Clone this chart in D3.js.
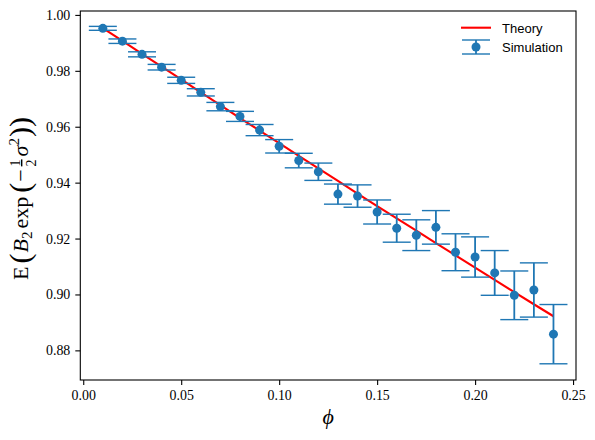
<!DOCTYPE html>
<html>
<head>
<meta charset="utf-8">
<script src="https://cdn.jsdelivr.net/npm/d3@7"></script>
<style>
  body { margin: 0; background: white; }
</style>
</head>
<body>
<div id="chart"></div>
<script>
// data
var phi = [0.01, 0.02, 0.03, 0.04, 0.05, 0.06, 0.07, 0.08, 0.09, 0.10, 0.11, 0.12,
           0.13, 0.14, 0.15, 0.16, 0.17, 0.18, 0.19, 0.20, 0.21, 0.22, 0.23, 0.24];
var simMean = [0.9952, 0.9906, 0.9859, 0.9813, 0.9766, 0.9723, 0.9672, 0.9637, 0.9588, 0.9530, 0.9479, 0.9439,
               0.9359, 0.9352, 0.9295, 0.9237, 0.9212, 0.9240, 0.9151, 0.9134, 0.9077, 0.8997, 0.9016, 0.8858];
var simErr = [0.0007, 0.0008, 0.0009, 0.0010, 0.0011, 0.0013, 0.0015, 0.0018, 0.0020, 0.0024, 0.0026, 0.0031,
              0.0036, 0.0040, 0.0043, 0.0050, 0.0055, 0.0060, 0.0066, 0.0072, 0.0080, 0.0087, 0.0097, 0.0106];
var theory = [0.9953, 0.9907, 0.9861, 0.9815, 0.9769, 0.9723, 0.9677, 0.9631, 0.9586, 0.9541, 0.9496, 0.9451,
              0.9406, 0.9361, 0.9316, 0.9272, 0.9228, 0.9184, 0.9140, 0.9096, 0.9052, 0.9008, 0.8965, 0.8922];
var xTicks = [0.00, 0.05, 0.10, 0.15, 0.20, 0.25];
var yTicks = [0.88, 0.90, 0.92, 0.94, 0.96, 0.98, 1.00];
var legendLabels = ["Theory", "Simulation"];

var blue = "#1f77b4";
var serif = "'Liberation Serif', 'DejaVu Serif', serif";

// set the dimensions and margins of the graph
var W = 595, H = 440;
var margin = {top: 11, right: 19, bottom: 60, left: 80.3},
	width = W - margin.left - margin.right,
	height = H - margin.top - margin.bottom;

var svg = d3.select("#chart")
  .append("svg")
	.attr("width", W)
	.attr("height", H)
  .append("g")
	.attr("transform", "translate(" + margin.left + "," + margin.top + ")");

var x = d3.scaleLinear()
	.domain([-0.0015, 0.2515])
	.range([0, width]);
var y = d3.scaleLinear()
	.domain([0.8694, 1.0014])
	.range([height, 0]);

// Add X axis
var xAxis = svg.append("g")
	.attr("transform", "translate(0," + height + ")")
	.call(d3.axisBottom(x).tickValues(xTicks).tickFormat(d3.format(".2f")).tickSize(5).tickPadding(5));

// Add Y axis
var yAxis = svg.append("g")
	.call(d3.axisLeft(y).tickValues(yTicks).tickFormat(d3.format(".2f")).tickSize(5).tickPadding(5));

[xAxis, yAxis].forEach(function(a) {
	a.select(".domain").remove();
	a.selectAll(".tick line").attr("stroke", "#000").attr("stroke-width", 1.1);
	a.selectAll(".tick text")
		.attr("fill", "#000")
		.style("font-family", serif)
		.style("font-size", "13.9px");
});

// frame
svg.append("rect")
	.attr("x", 0).attr("y", 0)
	.attr("width", width).attr("height", height)
	.attr("fill", "none")
	.attr("stroke", "#000")
	.attr("stroke-width", 1.1);

var pts = phi.map(function(p, i) { return {phi: p, mean: simMean[i], err: simErr[i], th: theory[i]}; });

// Add the theory line
svg.append("path")
  .datum(pts)
  .attr("fill", "none")
  .attr("stroke", "red")
  .attr("stroke-width", 2.1)
  .attr("d", d3.line()
	.x(function(d) { return x(d.phi) })
	.y(function(d) { return y(d.th) })
	);

// error bars
var capHalf = 14;
var eb = svg.append("g").selectAll("g")
	.data(pts)
	.enter().append("g");
eb.append("line")
	.attr("x1", function(d) { return x(d.phi) })
	.attr("x2", function(d) { return x(d.phi) })
	.attr("y1", function(d) { return y(d.mean - d.err) })
	.attr("y2", function(d) { return y(d.mean + d.err) })
	.attr("stroke", blue).attr("stroke-width", 1.8);
[-1, 1].forEach(function(s) {
	eb.append("line")
		.attr("x1", function(d) { return x(d.phi) - capHalf })
		.attr("x2", function(d) { return x(d.phi) + capHalf })
		.attr("y1", function(d) { return y(d.mean + s * d.err) })
		.attr("y2", function(d) { return y(d.mean + s * d.err) })
		.attr("stroke", blue).attr("stroke-width", 1.4);
});
eb.append("circle")
	.attr("cx", function(d) { return x(d.phi) })
	.attr("cy", function(d) { return y(d.mean) })
	.attr("r", 4.5)
	.attr("fill", blue);

// legend
var leg = svg.append("g").attr("transform", "translate(" + (width - 115) + ",16.7)");
leg.append("line")
	.attr("x1", 0).attr("x2", 30).attr("y1", 0).attr("y2", 0)
	.attr("stroke", "red").attr("stroke-width", 2.1);
var le = leg.append("g").attr("transform", "translate(15,19.3)");
le.append("line").attr("x1", 0).attr("x2", 0).attr("y1", -7).attr("y2", 7)
	.attr("stroke", blue).attr("stroke-width", 1.8);
le.append("line").attr("x1", -capHalf).attr("x2", capHalf).attr("y1", -7).attr("y2", -7)
	.attr("stroke", blue).attr("stroke-width", 1.4);
le.append("line").attr("x1", -capHalf).attr("x2", capHalf).attr("y1", 7).attr("y2", 7)
	.attr("stroke", blue).attr("stroke-width", 1.4);
le.append("circle").attr("r", 4.5).attr("fill", blue);
leg.selectAll("text.lab")
	.data(legendLabels)
	.enter().append("text")
	.attr("class", "lab")
	.attr("x", 41)
	.attr("y", function(d, i) { return 5 + i * 19.3 })
	.style("font-family", "'Liberation Sans', Lato, sans-serif")
	.style("font-size", "13px")
	.text(function(d) { return d; });

// x label
svg.append("text")
	.attr("x", width / 2)
	.attr("y", height + 44)
	.attr("text-anchor", "middle")
	.style("font-family", serif)
	.style("font-style", "italic")
	.style("font-size", "22px")
	.text("\u03d5");

// y label: E( B_2 exp( -1/2 sigma^2 ) )
var yl = svg.append("text")
	.attr("transform", "translate(" + (28 - margin.left) + "," + (height / 2 + 3) + ") rotate(-90)")
	.attr("text-anchor", "middle")
	.style("font-family", serif)
	.style("font-size", "22px");
yl.append("tspan").text("E");
yl.append("tspan").style("font-size", "30px").attr("dy", 2).attr("dx", 3).text("(");
yl.append("tspan").style("font-style", "italic").attr("dy", -2).attr("dx", 1).text("B");
yl.append("tspan").style("font-size", "15px").attr("dy", 4).text("2");
yl.append("tspan").attr("dy", -4).attr("dx", 3).text("exp");
yl.append("tspan").style("font-size", "30px").attr("dy", 2).attr("dx", 4).text("(");
yl.append("tspan").attr("dy", -2).attr("dx", 1).text("\u2212");
yl.append("tspan").style("font-size", "14px").style("text-decoration", "underline").attr("dy", -8).attr("dx", 3).text("1");
yl.append("tspan").style("font-size", "14px").attr("dy", 16).attr("dx", -7).text("2");
yl.append("tspan").style("font-style", "italic").attr("dy", -8).attr("dx", 3).text("σ");
yl.append("tspan").style("font-size", "15px").attr("dy", -9).text("2");
yl.append("tspan").style("font-size", "30px").attr("dy", 11).attr("dx", 1).text("))");
</script>
</body>
</html>
